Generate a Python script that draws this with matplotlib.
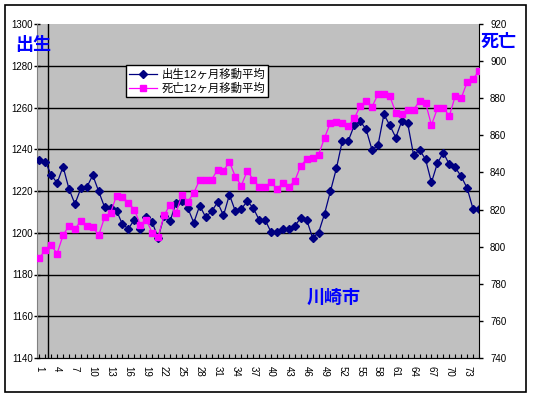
import matplotlib
matplotlib.use('Agg')
import numpy as np
from matplotlib import pyplot as plt
from matplotlib.patches import Rectangle

plt.rcParams['font.family'] = ['Liberation Sans', 'Noto Sans CJK JP', 'DejaVu Sans']

# データ
months = np.arange(1, 76)
birth = [1234.9, 1234.1, 1227.8, 1223.8, 1231.7, 1221.0, 1213.8, 1221.3, 1221.8, 1227.6,
         1219.8, 1212.2, 1211.9, 1210.6, 1204.0, 1201.9, 1206.3, 1201.9, 1207.5, 1205.1,
         1197.5, 1208.0, 1205.4, 1214.3, 1215.4, 1211.8, 1204.8, 1213.0, 1207.5, 1210.2,
         1214.6, 1208.3, 1218.2, 1210.3, 1211.4, 1215.1, 1211.9, 1206.2, 1206.2, 1200.3,
         1200.3, 1201.9, 1201.9, 1203.2, 1207.1, 1206.2, 1197.5, 1200.0, 1209.0, 1219.9,
         1230.8, 1244.0, 1244.0, 1251.4, 1253.5, 1249.5, 1239.7, 1241.9, 1256.7, 1251.4,
         1245.6, 1253.5, 1252.4, 1237.1, 1239.7, 1235.2, 1224.1, 1233.3, 1238.4, 1232.7,
         1231.3, 1227.0, 1221.4, 1211.4, 1211.4]
death = [794.0, 798.0, 800.7, 796.3, 806.1, 811.4, 809.3, 814.1, 811.4, 810.6,
         806.1, 815.9, 818.2, 827.5, 827.0, 823.6, 820.0, 811.8, 814.6, 807.5,
         805.2, 816.8, 822.7, 817.9, 828.0, 824.3, 828.9, 836.1, 836.1, 836.1,
         841.4, 840.9, 845.7, 837.7, 832.9, 840.9, 836.1, 832.3, 832.0, 834.7,
         831.1, 834.1, 832.3, 835.5, 843.6, 847.2, 847.7, 849.5, 858.6, 866.8,
         867.3, 866.8, 865.0, 869.1, 875.7, 878.4, 875.4, 882.1, 882.1, 881.1,
         872.2, 871.6, 873.9, 873.9, 878.4, 877.5, 865.5, 874.5, 875.0, 870.4,
         881.1, 880.0, 888.6, 890.5, 894.5]
label_birth = '出生12ヶ月移動平均'
label_death = '死亡12ヶ月移動平均'
left_ticks = np.arange(1140, 1301, 20)
right_ticks = np.arange(740, 921, 20)
x_labels = np.arange(1, 76, 3)

W, H = 533, 398
fig = plt.figure(figsize=(W / 100, H / 100), dpi=100)
fig.patches.append(Rectangle((5 / W, 1 - 392 / H), 521 / W, 387 / H, transform=fig.transFigure,
                             fill=False, edgecolor='black', lw=1.2))

ax = fig.add_axes([36.6 / W, 1 - 358 / H, (479 - 36.6) / W, (358 - 24) / H])
ax.set_facecolor('#C0C0C0')
ax.set_xlim(0.55, 75)
ax.set_ylim(1140, 1300)
ax.set_axisbelow(True)
for v in left_ticks[1:-1]:
    ax.axhline(v, color='black', lw=1, zorder=0.5)
ax.axvline(2.52, color='black', lw=1, zorder=0.5)

l1, = ax.plot(months, birth, color='#000080', lw=0.9, marker='D', markersize=4.2,
              label=label_birth, zorder=3)

ax2 = ax.twinx()
ax2.set_ylim(740, 920)
l2, = ax2.plot(months, death, color='#FF00FF', lw=0.9, marker='s', markersize=4.5,
               label=label_death, zorder=3)

ax.set_yticks(left_ticks)
ax.set_yticklabels([str(v) for v in left_ticks])
ax2.set_yticks(right_ticks)
ax2.set_yticklabels([str(v) for v in right_ticks])
ax.tick_params(axis='y', direction='inout', length=5, width=1, pad=0, labelsize=7)
ax2.tick_params(axis='y', direction='out', length=3, width=1, pad=5, labelsize=7)

ax.set_xticks(months)
ax.set_xticklabels([str(m) if m in x_labels else '' for m in months], rotation=-90)
ax.tick_params(axis='x', direction='in', length=3, width=0.8, pad=6, labelsize=7)

ax.spines['top'].set_visible(False)
ax2.spines['top'].set_visible(False)
ax.spines['left'].set_color('#808080')
ax2.spines['left'].set_visible(False)
ax.spines['bottom'].set_color('black')
ax2.spines['right'].set_color('black')
ax.spines['right'].set_visible(False)

fig.legend(handles=[l1, l2], loc='upper left', bbox_to_anchor=(126 / W, 1 - 65 / H),
           bbox_transform=fig.transFigure, fontsize=8.2, frameon=True, fancybox=False,
           edgecolor='black', framealpha=1, borderaxespad=0, borderpad=0.3,
           labelspacing=0.25, handlelength=2.4, handletextpad=0.4)

fig.text(33 / W, 1 - 45 / H, '出生', color='#0000FF', fontsize=13, fontweight='bold',
         ha='center', va='center')
fig.text(499 / W, 1 - 42 / H, '死亡', color='#0000FF', fontsize=13, fontweight='bold',
         ha='center', va='center')
fig.text(334 / W, 1 - 298 / H, '川崎市', color='#0000FF', fontsize=13, fontweight='bold',
         ha='center', va='center')

fig.savefig('out.png', dpi=100)
